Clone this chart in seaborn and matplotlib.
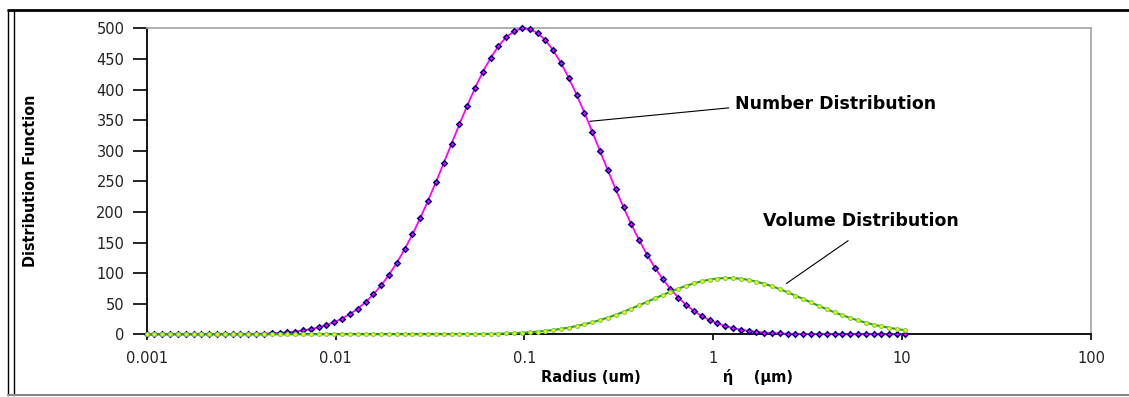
import matplotlib
matplotlib.use("Agg")
import matplotlib.pyplot as plt
from matplotlib.lines import Line2D
import seaborn as sns

# Particle radius grid (um), geometric steps
radius = [
    0.001, 0.0011, 0.00121, 0.001331, 0.001464, 0.001611, 0.001772, 0.001949, 0.002144, 0.002358,
    0.002594, 0.002853, 0.003138, 0.003452, 0.003797, 0.004177, 0.004595, 0.005054, 0.00556, 0.006116,
    0.006728, 0.0074, 0.00814, 0.008954, 0.00985, 0.01083, 0.01192, 0.01311, 0.01442, 0.01586,
    0.01745, 0.01919, 0.02111, 0.02323, 0.02555, 0.0281, 0.03091, 0.034, 0.0374, 0.04114,
    0.04526, 0.04979, 0.05476, 0.06024, 0.06626, 0.07289, 0.08018, 0.0882, 0.09702, 0.1067,
    0.1174, 0.1291, 0.142, 0.1562, 0.1719, 0.1891, 0.208, 0.2288, 0.2516, 0.2768,
    0.3045, 0.3349, 0.3684, 0.4053, 0.4458, 0.4904, 0.5394, 0.5933, 0.6527, 0.718,
    0.7897, 0.8687, 0.9556, 1.051, 1.156, 1.272, 1.399, 1.539, 1.693, 1.862,
    2.048, 2.253, 2.479, 2.726, 2.999, 3.299, 3.629, 3.992, 4.391, 4.83,
    5.313, 5.844, 6.429, 7.072, 7.779, 8.557, 9.412, 10.35,
]

number_dist = [
    0, 0, 0, 0.01, 0.01, 0.02, 0.03, 0.04, 0.07, 0.11,
    0.16, 0.25, 0.37, 0.55, 0.8, 1.16, 1.67, 2.36, 3.3, 4.58,
    6.27, 8.5, 11.4, 15.1, 19.8, 25.7, 33.0, 41.8, 52.5, 65.2,
    80.0, 97.2, 116.9, 138.9, 163.3, 189.9, 218.4, 248.5, 279.7, 311.4,
    342.9, 373.4, 402.2, 428.6, 451.7, 470.9, 485.6, 495.3, 499.7, 498.7,
    492.3, 480.6, 464.2, 443.4, 418.9, 391.5, 361.9, 331.0, 299.4, 267.8,
    237.0, 207.5, 179.6, 153.8, 130.3, 109.1, 90.4, 74.1, 60.1, 48.2,
    38.2, 30.0, 23.3, 17.9, 13.6, 10.2, 7.6, 5.6, 4.05, 2.91,
    2.07, 1.46, 1.01, 0.7, 0.47, 0.32, 0.21, 0.14, 0.09, 0.06,
    0.04, 0.02, 0.01, 0.01, 0, 0, 0, 0,
]

volume_dist = [
    0, 0, 0, 0, 0, 0, 0, 0, 0, 0,
    0, 0, 0, 0, 0, 0, 0, 0, 0, 0,
    0, 0, 0, 0, 0, 0, 0, 0, 0, 0,
    0, 0, 0.01, 0.01, 0.02, 0.03, 0.05, 0.07, 0.11, 0.15,
    0.22, 0.31, 0.44, 0.6, 0.83, 1.1, 1.5, 2.0, 2.6, 3.4,
    4.4, 5.6, 7.1, 8.9, 11.0, 13.5, 16.4, 19.6, 23.3, 27.4,
    31.9, 36.8, 42.0, 47.4, 53.0, 58.6, 64.2, 69.5, 74.6, 79.2,
    83.3, 86.7, 89.3, 91.1, 91.9, 91.8, 90.8, 88.9, 86.1, 82.6,
    78.5, 73.7, 68.6, 63.2, 57.6, 52.0, 46.4, 41.0, 35.9, 31.1,
    26.7, 22.6, 19.0, 15.8, 13.0, 10.6, 8.6, 6.8,
]

x_ticks = [0.001, 0.01, 0.1, 1, 10, 100]
x_tick_labels = ["0.001", "0.01", "0.1", "1", "10", "100"]
y_ticks = [0, 50, 100, 150, 200, 250, 300, 350, 400, 450, 500]

sns.set_style("white")
plt.rcParams["font.family"] = ["DejaVu Sans"]

fig = plt.figure(figsize=(11.29, 3.97), dpi=100)
fig.patch.set_facecolor("white")
ax = fig.add_axes([0.1299, 0.1579, 0.9663 - 0.1299, 0.9287 - 0.1579])
ax.set_facecolor("white")

sns.lineplot(x=radius, y=number_dist, ax=ax, color="#FF00FF", linewidth=1.3,
             marker="D", markersize=2.8, markerfacecolor="#FF00FF",
             markeredgecolor="#000080", markeredgewidth=1.1, clip_on=False,
             zorder=3)
sns.lineplot(x=radius, y=volume_dist, ax=ax, color="#2E9E2E", linewidth=1.5,
             marker="o", markersize=2.8, markerfacecolor="#FFFF00",
             markeredgecolor="#7FD040", markeredgewidth=0.8, clip_on=False,
             zorder=4)

ax.set_xscale("log")
ax.set_xlim(0.001, 100)
ax.set_ylim(0, 500)
ax.set_xticks(x_ticks)
ax.set_xticklabels(x_tick_labels)
ax.minorticks_off()
ax.set_yticks(y_ticks)
ax.tick_params(axis="y", which="major", direction="out", length=10, width=1.2,
               color="black", pad=6, labelsize=10.5, labelcolor="#222222", left=True)
ax.tick_params(axis="x", which="major", direction="out", length=4, width=1.2,
               color="black", pad=8, labelsize=10.5, labelcolor="#222222", bottom=True)

for side in ("left", "bottom"):
    ax.spines[side].set_color("black")
    ax.spines[side].set_linewidth(1.3)
for side in ("top", "right"):
    ax.spines[side].set_color("#A8A8A8")
    ax.spines[side].set_linewidth(1.3)
ax.grid(False)

ax.set_xlabel("Radius (um)" + " " * 16 + "\u03ae" + "    " + "(\u03bcm)",
              fontsize=10.5, fontweight="bold", color="black")
ax.xaxis.label.set_horizontalalignment("left")
ax.xaxis.label.set_verticalalignment("center")
ax.xaxis.set_label_coords(0.418, -0.14)

ax.set_ylabel("Distribution Function", fontsize=11.5, fontweight="bold",
              color="black", fontstretch="condensed")
ax.yaxis.label.set_verticalalignment("center")
ax.yaxis.set_label_coords(-0.123, 0.5)

# Curve labels with leader lines
ax.text(1.30, 376, "Number Distribution", fontsize=12.5, fontweight="bold",
        color="black", ha="left", va="center")
ax.plot([0.222, 1.208], [348, 370], color="black", linewidth=0.8)
ax.text(1.83, 185, "Volume Distribution", fontsize=12.5, fontweight="bold",
        color="black", ha="left", va="center")
ax.plot([2.44, 5.18], [83, 153], color="black", linewidth=0.8)

# Outer frame of the chart object
W, H = 1129.0, 397.0
fig.add_artist(Line2D([8 / W, 1], [1 - 10 / H, 1 - 10 / H], color="black", linewidth=2))
fig.add_artist(Line2D([8 / W, 8 / W], [1 - 10 / H, 1 - 395 / H], color="black", linewidth=1))
fig.add_artist(Line2D([14 / W, 14 / W], [1 - 10 / H, 1 - 395 / H], color="black", linewidth=1))
fig.add_artist(Line2D([8 / W, 1], [1 - 395 / H, 1 - 395 / H], color="#888888", linewidth=1.5))

fig.savefig("out.png", dpi=100, facecolor="white")
